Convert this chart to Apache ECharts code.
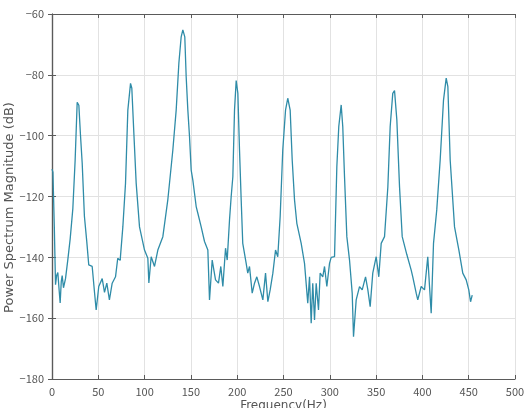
<!DOCTYPE html>
<html>
<head>
<meta charset="utf-8">
<script src="https://cdn.jsdelivr.net/npm/echarts@6/dist/echarts.min.js"></script>
<style>
  html, body { margin: 0; padding: 0; background: #fff; }
  #chart { width: 524px; height: 408px; }
</style>
</head>
<body>
<div id="chart"></div>
<script>
// frequency (Hz) and power spectrum magnitude (dB)
const freqs = [
    0, 1, 2.5, 3.8, 5, 6.3, 7.5, 8.8, 10, 11, 12.4, 14.6, 17, 19.6, 22.5, 25, 27.2, 28, 29, 30.8,
    32.6, 35, 37.6, 39.7, 41.5, 43.4, 45.9, 47.7, 50.5, 54.2, 56.7, 59.2, 62, 65, 68.6, 71, 73.6, 76.5, 79.4, 81.9,
    84.8, 86.2, 88.4, 90.9, 94.5, 99.9, 103.5, 104.6, 107.1, 110.7, 114.3, 119.7, 125.1, 130.5, 134.1, 137, 139.5, 141.3, 143.4, 144.9,
    146.7, 148.5, 150.3, 152.1, 155.7, 157.5, 161.1, 164.7, 168.3, 170.1, 173, 176.6, 179.8, 182.3, 184.5, 187.4, 189.2, 191.7, 193.5, 195.3,
    197.1, 198.9, 200.7, 202.5, 204.3, 206, 209.7, 211.4, 213.3, 216.2, 218.7, 221.2, 224.1, 227.7, 230.6, 233.1, 235.6, 238.5, 241.4, 243.8,
    246.4, 249.2, 252.2, 254.6, 255.5, 257.2, 259.4, 261.9, 264.4, 269.1, 272.7, 276.2, 278.1, 279.9, 281.6, 283.5, 285.3, 287.8, 289.6, 292.4,
    294.3, 296.8, 299.7, 301.5, 305.1, 307.6, 309.7, 312.3, 314, 315.9, 318.4, 321.3, 324.2, 325.6, 328.5, 332.1, 335, 338.6, 341.1, 343.6,
    346.4, 350.1, 352.9, 355.5, 359.1, 362.7, 365.2, 368, 369.9, 372.4, 375.3, 378.2, 383.1, 387.9, 389.6, 393.3, 395, 398.7, 402.3, 405.8,
    407.7, 409.5, 412, 415.5, 419.2, 422.8, 425.7, 427.5, 430, 434.7, 439.4, 443.6, 447.3, 450.1, 452, 453.8
];
const mags = [
    -111, -112, -130, -149, -146, -145, -150, -155, -148, -146, -150, -147, -141, -134, -124, -108, -89, -88.6, -90, -100,
    -109, -126.5, -135, -142.5, -143, -143, -151.5, -157.3, -149.6, -147, -151.5, -148.5, -154, -148.5, -146.4, -140.3, -141, -130, -115.6, -91.6,
    -82.8, -84.4, -99.2, -115.6, -130, -137.6, -140.3, -148.4, -139.8, -143, -137.6, -133.2, -121, -104.7, -91.6, -76.2, -67.5, -65.2, -67.5, -80.6,
    -91.6, -100.3, -111.3, -114.6, -123.3, -125.5, -130, -134.8, -137.6, -154, -140.9, -147.4, -148.5, -143, -149.6, -137, -140.9, -127.7, -120, -113.5,
    -91.6, -81.9, -86, -104.7, -121.1, -135.4, -142, -145.2, -143, -151.8, -148.5, -146.4, -149.6, -154, -145.2, -154.6, -150.7, -145.2, -137.6, -139.8,
    -126.6, -104.7, -91.6, -87.7, -87.4, -91.6, -108, -121.1, -128.8, -135.4, -142, -155.1, -146.4, -161.7, -148.5, -160.6, -148.5, -157.3, -145.2, -146.4,
    -143, -149.6, -142, -140, -139.8, -110.2, -97, -89.9, -97, -113.5, -133.2, -140.9, -151.8, -166.1, -154, -149.6, -150.7, -146.4, -150.7, -156.2,
    -145.2, -139.8, -146.4, -135.4, -133.2, -116.8, -97, -86.1, -85.2, -94.8, -116.8, -133.2, -139, -144.2, -146.4, -151.8, -154, -149.6, -150.7, -139.8,
    -149.6, -158.4, -135.4, -124.4, -108, -88.3, -81.1, -83.9, -108, -130, -137.6, -145.2, -147.4, -150.7, -154.6, -152.4
];

const xTitle = 'Frequency(Hz)';
const yTitle = 'Power Spectrum Magnitude (dB)';

const textColor = '#555';
const frameColor = '#5a5a5a';
const font = '"Noto Sans CJK JP", "Noto Sans", sans-serif';
const nameFont = '"DejaVu Sans", sans-serif';

const chart = echarts.init(document.getElementById('chart'));

const points = freqs.map((f, i) => [f, mags[i]]);
const minus = v => String(v).replace('-', '\u2212');

chart.setOption({
    animation: false,
    backgroundColor: '#fff',
    grid: { left: 52, right: 9, top: 14, bottom: 29, containLabel: false, outerBoundsMode: 'none' },
    xAxis: [
        {
            type: 'value', min: 0, max: 500, interval: 50,
            name: xTitle, nameLocation: 'middle', nameGap: 21, nameMoveOverlap: false,
            nameTextStyle: { color: textColor, fontSize: 12, fontFamily: nameFont },
            axisLine: { show: true, lineStyle: { color: frameColor, width: 1.2 } },
            axisTick: { show: true, inside: true, length: 4, lineStyle: { color: frameColor } },
            axisLabel: { color: textColor, fontSize: 11, fontFamily: font, margin: 7 },
            splitLine: { show: true, lineStyle: { color: '#e2e2e2', width: 1 } }
        },
        {
            type: 'value', min: 0, max: 500, interval: 50, position: 'top',
            axisLine: { show: true, lineStyle: { color: frameColor, width: 1.2 } },
            axisTick: { show: true, inside: true, length: 4, lineStyle: { color: frameColor } },
            axisLabel: { show: false },
            splitLine: { show: false }
        }
    ],
    yAxis: [
        {
            type: 'value', min: -180, max: -60, interval: 20,
            name: yTitle, nameLocation: 'middle', nameGap: 36, nameMoveOverlap: false,
            nameTextStyle: { color: textColor, fontSize: 13, fontFamily: nameFont, padding: [0, 22, 0, 0] },
            axisLine: { show: true, lineStyle: { color: frameColor, width: 1.2 } },
            axisTick: { show: true, inside: true, length: 4, lineStyle: { color: frameColor } },
            axisLabel: { color: textColor, fontSize: 11, fontFamily: font, margin: 8, formatter: minus },
            splitLine: { show: true, lineStyle: { color: '#e2e2e2', width: 1 } }
        },
        {
            type: 'value', min: -180, max: -60, interval: 20, position: 'right',
            axisLine: { show: true, lineStyle: { color: frameColor, width: 1.2 } },
            axisTick: { show: true, inside: true, length: 4, lineStyle: { color: frameColor } },
            axisLabel: { show: false },
            splitLine: { show: false }
        }
    ],
    series: [
        {
            type: 'line',
            data: points,
            showSymbol: false,
            lineStyle: { color: '#2f8ca8', width: 1.3 },
            z: 3
        }
    ]
});
</script>
</body>
</html>
